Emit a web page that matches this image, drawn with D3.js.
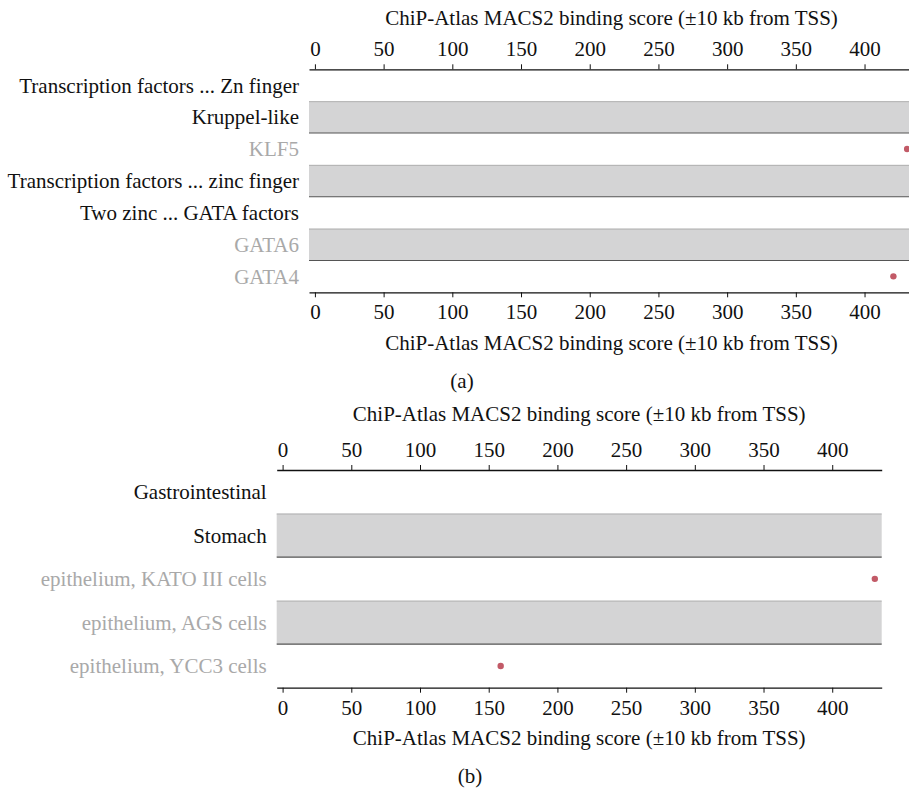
<!DOCTYPE html>
<html>
<head>
<meta charset="utf-8">
<script src="https://cdn.jsdelivr.net/npm/d3@7"></script>
<style>
  html, body { margin: 0; padding: 0; background: #fff; }
  svg { display: block; font-family: "Liberation Serif", "Times New Roman", serif; }
  .axis path, .axis line { stroke: #111; }
  .axis text { font-family: "Liberation Serif", serif; font-size: 21px; fill: #111; }
</style>
</head>
<body>
<svg id="chart" width="909" height="795"></svg>
<script>
// Panel (a): transcription factor hierarchy
const rowsA = [
  "Transcription factors ... Zn finger",
  "Kruppel-like",
  "KLF5",
  "Transcription factors ... zinc finger",
  "Two zinc ... GATA factors",
  "GATA6",
  "GATA4"
];
const leafA = [false, false, true, false, false, true, true];
const scoresA = [null, null, 431, null, null, null, 421];

// Panel (b): tissue / cell-type hierarchy
const rowsB = [
  "Gastrointestinal",
  "Stomach",
  "epithelium, KATO III cells",
  "epithelium, AGS cells",
  "epithelium, YCC3 cells"
];
const leafB = [false, false, true, true, true];
const scoresB = [null, null, 431, null, 158.7];

const scoreTicks = [0, 50, 100, 150, 200, 250, 300, 350, 400];
const scoreDomain = [-4.3, 436];
const axisTitle = "ChiP-Atlas MACS2 binding score (\u00b110 kb from TSS)";
const FONT = "21px";

const svg = d3.select("#chart");

function drawPanel(cfg) {
  const g = svg.append("g");
  const x = d3.scaleLinear().domain(scoreDomain).range([cfg.x0, cfg.x1]);
  const y = d3.scaleBand().domain(d3.range(cfg.rows.length)).range([cfg.yTop, cfg.yBottom]).padding(0);

  // alternating shaded rows
  const shaded = d3.range(cfg.rows.length).filter(i => i % 2 === 1);
  g.selectAll("rect.band").data(shaded).join("rect")
    .attr("class", "band")
    .attr("x", cfg.x0).attr("width", cfg.x1 - cfg.x0)
    .attr("y", i => y(i)).attr("height", y.bandwidth())
    .attr("fill", "#d4d4d5");
  g.selectAll("line.bandTop").data(shaded).join("line")
    .attr("x1", cfg.x0).attr("x2", cfg.x1)
    .attr("y1", i => y(i) + 0.5).attr("y2", i => y(i) + 0.5)
    .attr("stroke", "#a8a8a8").attr("stroke-width", 0.8);
  g.selectAll("line.bandBottom").data(shaded).join("line")
    .attr("x1", cfg.x0).attr("x2", cfg.x1)
    .attr("y1", i => y(i) + y.bandwidth()).attr("y2", i => y(i) + y.bandwidth())
    .attr("stroke", "#555").attr("stroke-width", 1.1);

  // row labels
  g.selectAll("text.rowLabel").data(cfg.rows).join("text")
    .attr("class", "rowLabel")
    .attr("x", cfg.x0 - 10)
    .attr("y", (d, i) => y(i) + y.bandwidth() / 2)
    .attr("dy", "0.35em")
    .attr("text-anchor", "end")
    .attr("font-size", FONT)
    .attr("fill", (d, i) => cfg.leaf[i] ? "#a9a9a9" : "#111")
    .text(d => d);

  // score points
  const pts = cfg.scores.map((v, i) => ({ v, i })).filter(d => d.v !== null);
  g.selectAll("circle.pt").data(pts).join("circle")
    .attr("class", "pt")
    .attr("cx", d => x(d.v))
    .attr("cy", d => y(d.i) + y.bandwidth() / 2)
    .attr("r", 3.2)
    .attr("fill", "#c25a67");

  // top axis
  const top = g.append("g").attr("class", "axis")
    .attr("transform", `translate(0,${cfg.yTop})`)
    .call(d3.axisTop(x).tickValues(scoreTicks).tickSize(5).tickSizeOuter(0).tickPadding(8));
  top.select(".domain").attr("stroke-width", 1.3);

  // bottom axis
  const bot = g.append("g").attr("class", "axis")
    .attr("transform", `translate(0,${cfg.yBottom})`)
    .call(d3.axisBottom(x).tickValues(scoreTicks).tickSize(5).tickSizeOuter(0).tickPadding(7));
  bot.select(".domain").attr("stroke-width", 1.3);

  const cx = (cfg.x0 + cfg.x1) / 2;
  g.append("text").attr("x", cx).attr("y", cfg.titleTopY).attr("dy", "0.35em")
    .attr("text-anchor", "middle").attr("font-size", FONT).attr("fill", "#111")
    .text(axisTitle);
  g.append("text").attr("x", cx).attr("y", cfg.yBottom + 50).attr("dy", "0.35em")
    .attr("text-anchor", "middle").attr("font-size", FONT).attr("fill", "#111")
    .text(axisTitle);
  g.append("text").attr("x", cfg.tagX).attr("y", cfg.tagY).attr("dy", "0.35em")
    .attr("text-anchor", "middle").attr("font-size", FONT).attr("fill", "#111")
    .text(cfg.tag);
}

drawPanel({
  rows: rowsA, leaf: leafA, scores: scoresA,
  x0: 309, x1: 914, yTop: 69.3, yBottom: 292.3, titleTopY: 18,
  tag: "(a)", tagX: 462, tagY: 381
});

drawPanel({
  rows: rowsB, leaf: leafB, scores: scoresB,
  x0: 276.7, x1: 881.7, yTop: 470, yBottom: 687.7, titleTopY: 414,
  tag: "(b)", tagX: 470, tagY: 776
});
</script>
</body>
</html>
